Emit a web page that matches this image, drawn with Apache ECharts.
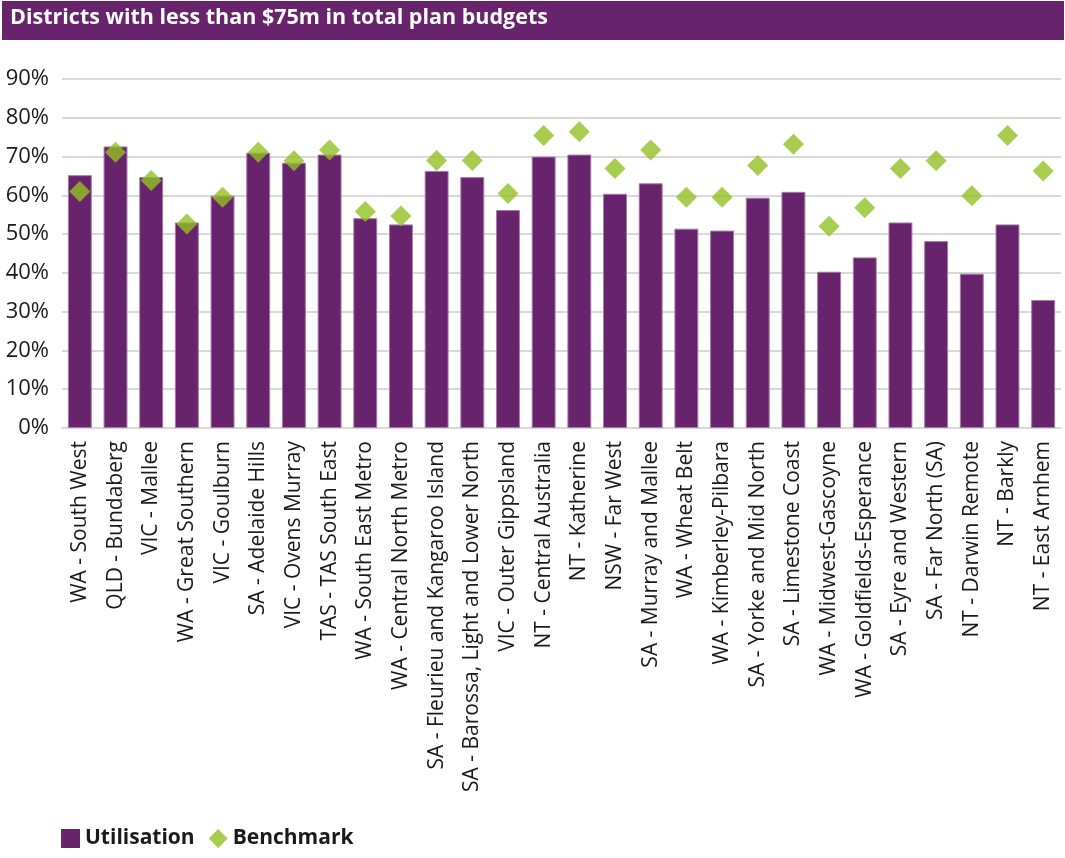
<!DOCTYPE html>
<html>
<head>
<meta charset="utf-8">
<script src="https://cdn.jsdelivr.net/npm/echarts@6/dist/echarts.min.js"></script>
<style>
  html, body { margin: 0; padding: 0; background: #fff; }
  #chart { width: 1065px; height: 858px; }
</style>
</head>
<body>
<div id="chart"></div>
<script>
var districts = [
  "WA - South West", "QLD - Bundaberg", "VIC - Mallee", "WA - Great Southern",
  "VIC - Goulburn", "SA - Adelaide Hills", "VIC - Ovens Murray", "TAS - TAS South East",
  "WA - South East Metro", "WA - Central North Metro", "SA - Fleurieu and Kangaroo Island",
  "SA - Barossa, Light and Lower North", "VIC - Outer Gippsland", "NT - Central Australia",
  "NT - Katherine", "NSW - Far West", "SA - Murray and Mallee", "WA - Wheat Belt",
  "WA - Kimberley-Pilbara", "SA - Yorke and Mid North", "SA - Limestone Coast",
  "WA - Midwest-Gascoyne", "WA - Goldfields-Esperance", "SA - Eyre and Western",
  "SA - Far North (SA)", "NT - Darwin Remote", "NT - Barkly", "NT - East Arnhem"
];
var utilisation = [
  65.2, 72.6, 64.7, 53.0, 59.9, 71.0, 68.4, 70.5,
  54.1, 52.5, 66.3, 64.7, 56.2, 70.0, 70.5, 60.4,
  63.1, 51.4, 50.9, 59.4, 60.9, 40.3, 44.0, 53.0,
  48.2, 39.8, 52.5, 33.0
];
var benchmark = [
  61.0, 71.1, 63.8, 52.6, 59.5, 71.1, 68.9, 71.7,
  55.8, 54.7, 69.0, 69.0, 60.5, 75.4, 76.4, 66.9,
  71.7, 59.5, 59.5, 67.7, 73.2, 52.0, 56.8, 66.9,
  68.9, 59.9, 75.4, 66.3
];

var purple = "#68236d";
var green = "#92c023";
var font = "Open Sans";

var myChart = echarts.init(document.getElementById("chart"));
var option = {
  animation: false,
  textStyle: { fontFamily: font },
  graphic: [
    {
      type: "rect",
      left: 2, top: 1,
      shape: { width: 1062, height: 39 },
      style: { fill: purple }
    },
    {
      type: "text",
      left: 10, top: 7,
      style: {
        text: "Districts with less than $75m in total plan budgets",
        fill: "#fff",
        font: "bold 21.5px 'Open Sans'"
      }
    }
  ],
  legend: {
    left: 56,
    bottom: 4,
    itemGap: 14,
    itemWidth: 19,
    itemHeight: 19,
    textStyle: { fontSize: 21, fontWeight: "bold", color: "#1a1a1a", fontFamily: font },
    data: [
      { name: "Utilisation", icon: "rect", itemStyle: { borderWidth: 0 } },
      { name: "Benchmark", icon: "diamond" }
    ]
  },
  grid: {
    left: 62,
    right: 4,
    top: 79,
    bottom: 430
  },
  xAxis: {
    type: "category",
    data: districts,
    axisTick: { show: false },
    axisLine: { lineStyle: { color: "#d9d9d9", width: 2 } },
    axisLabel: {
      interval: 0,
      rotate: 90,
      fontSize: 21,
      color: "#1a1a1a",
      margin: 13
    }
  },
  yAxis: {
    type: "value",
    min: 0,
    max: 90,
    interval: 10,
    axisLine: { show: false },
    axisTick: { show: false },
    splitLine: { lineStyle: { color: "#d9d9d9", width: 2 } },
    axisLabel: {
      formatter: "{value}%",
      fontSize: 22,
      color: "#1a1a1a",
      margin: 13
    }
  },
  series: [
    {
      name: "Utilisation",
      type: "bar",
      data: utilisation,
      barWidth: "67%",
      itemStyle: { color: purple, borderColor: "#a57aa8", borderWidth: 1 }
    },
    {
      name: "Benchmark",
      type: "scatter",
      data: benchmark,
      symbol: "diamond",
      symbolSize: 21,
      itemStyle: { color: green }
    }
  ]
};
myChart.setOption(option);
window.addEventListener("resize", function () {
  myChart.resize();
});
</script>
</body>
</html>
